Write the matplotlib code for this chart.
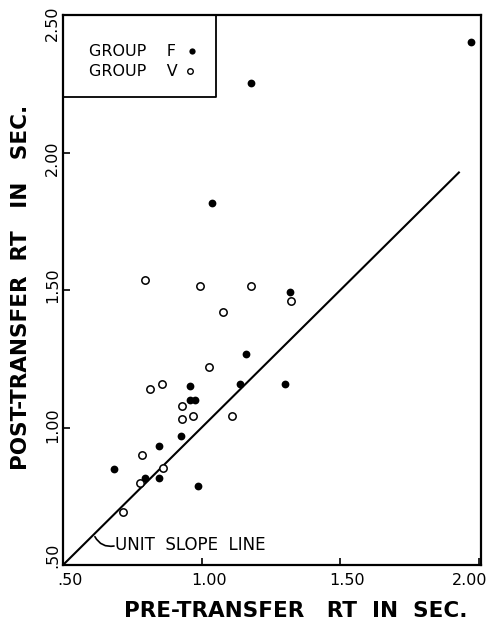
import matplotlib
matplotlib.use("Agg")
import matplotlib.pyplot as plt
from matplotlib.lines import Line2D
from matplotlib.transforms import ScaledTranslation

# data (pre-transfer RT, post-transfer RT)
group_f_x = [1.320, 1.161, 1.139, 1.302, 0.959, 0.959, 0.977, 0.927, 0.847, 0.683, 0.796, 0.846, 0.988, 1.971, 1.177, 1.038]
group_f_y = [1.492, 1.267, 1.158, 1.158, 1.150, 1.099, 1.099, 0.969, 0.932, 0.849, 0.815, 0.817, 0.786, 2.403, 2.253, 1.817]
group_v_x = [0.796, 0.995, 1.179, 1.321, 1.078, 1.028, 0.815, 0.857, 0.929, 0.928, 0.968, 1.111, 0.784, 0.860, 0.778, 0.715]
group_v_y = [1.536, 1.516, 1.516, 1.459, 1.419, 1.219, 1.140, 1.158, 1.079, 1.030, 1.041, 1.041, 0.899, 0.853, 0.799, 0.694]
unit_x = [0.5, 1.93]
unit_y = [0.5, 1.93]
ticks = [0.5, 1.0, 1.5, 2.0, 2.5]
tick_labels = [".50", "1.00", "1.50", "2.00", "2.50"]
legend_names = ["GROUP    F", "GROUP    V"]

fig = plt.figure(figsize=(4.89, 6.25), dpi=100)
ax = fig.add_axes([63/489, 60/625, 418/489, 550/625])

ax.plot(unit_x, unit_y, color="black", lw=1.5, solid_capstyle="butt")
ax.plot(group_f_x, group_f_y, "o", color="black", ms=5.6, mew=0)
ax.plot(group_v_x, group_v_y, "o", mfc="white", mec="black", ms=5.3, mew=1.1)

ax.set_xlim(0.5, 2.007)
ax.set_ylim(0.5, 2.5)
for s in ax.spines.values():
    s.set_linewidth(1.6)

ax.set_xticks(ticks[:4])
ax.set_xticklabels(tick_labels[:4])
ax.set_yticks(ticks)
ax.set_yticklabels(tick_labels, rotation=90, va="center")
ax.tick_params(direction="in", length=5, width=1.2, labelsize=11.5, pad=6)
ax.tick_params(axis="y", pad=2)
# hand-lettered labels sit a little off their ticks (pixels)
x_shifts = [7, 7, 7, -9]
for lab, dx in zip(ax.get_xticklabels(), x_shifts):
    lab.set_transform(lab.get_transform() + ScaledTranslation(dx/100, 0, fig.dpi_scale_trans))
y_shifts = [10, 2, 5, -6, -8]
for lab, dy in zip(ax.get_yticklabels(), y_shifts):
    lab.set_transform(lab.get_transform() + ScaledTranslation(0, dy/100, fig.dpi_scale_trans))

ax.set_xlabel("PRE-TRANSFER   RT  IN  SEC.", fontsize=15.5, fontweight="bold", va="center")
ax.xaxis.set_label_coords(0.557, -0.0836)
ax.set_ylabel("POST-TRANSFER  RT   IN   SEC.", fontsize=15.5, fontweight="bold", va="center")
ax.yaxis.set_label_coords(-0.100, 0.504)

# legend box in the upper left corner
ax.add_line(Line2D([0.0, 0.365, 0.365, 0.0], [1.0, 1.0, 0.851, 0.851], transform=ax.transAxes,
                   color="black", lw=1.3))
ax.text(0.062, 0.9345, legend_names[0], transform=ax.transAxes, fontsize=11.5, va="center")
ax.text(0.062, 0.898, legend_names[1], transform=ax.transAxes, fontsize=11.5, va="center")
ax.plot([0.309], [0.9345], "o", color="black", ms=4.5, mew=0, transform=ax.transAxes)
ax.plot([0.304], [0.898], "o", mfc="white", mec="black", ms=4, mew=1, transform=ax.transAxes)

# label for the diagonal, with a small hooked pointer to the line
ax.text(0.6875, 0.573, "UNIT  SLOPE  LINE", fontsize=12, va="center")
ax.annotate("", xy=(0.615, 0.603), xytext=(0.684, 0.569),
            arrowprops=dict(arrowstyle="-", lw=1.2, color="black",
                            connectionstyle="arc3,rad=-0.35", shrinkA=0, shrinkB=0))

fig.savefig("out.png", dpi=100)
